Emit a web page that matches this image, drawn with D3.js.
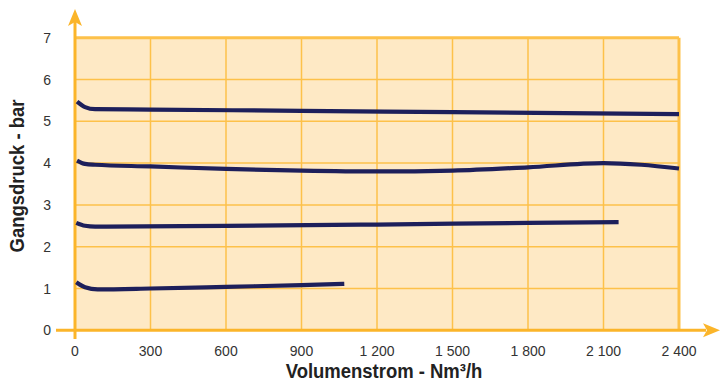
<!DOCTYPE html>
<html><head><meta charset="utf-8">
<script src="https://cdn.jsdelivr.net/npm/d3@7"></script>
<style>body{margin:0;background:#fff}svg{display:block}</style>
</head><body>
<svg id="c" width="720" height="381"></svg>
<script>
const xTicks = [0, 300, 600, 900, 1200, 1500, 1800, 2100, 2400];
const xTickLabels = ["0", "300", "600", "900", "1 200", "1 500", "1 800", "2 100", "2 400"];
const yTicks = [0, 1, 2, 3, 4, 5, 6, 7];
const xTitle = "Volumenstrom - Nm³/h";
const yTitle = "Gangsdruck - bar";

const flow1 = [8, 40, 80, 300, 900, 1500, 2400];
const pres1 = [5.47, 5.34, 5.29, 5.28, 5.25, 5.22, 5.17];
const flow2 = [8, 40, 80, 300, 600, 900, 1200, 1500, 1800, 2100, 2250, 2400];
const pres2 = [4.06, 3.98, 3.96, 3.92, 3.86, 3.82, 3.80, 3.82, 3.90, 4.00, 3.96, 3.87];
const flow3 = [5, 40, 80, 600, 1200, 1800, 2160];
const pres3 = [2.57, 2.50, 2.48, 2.50, 2.53, 2.57, 2.59];
const flow4 = [5, 40, 90, 300, 600, 900, 1070];
const pres4 = [1.15, 1.03, 0.98, 1.00, 1.04, 1.08, 1.11];

const series = [[flow1, pres1], [flow2, pres2], [flow3, pres3], [flow4, pres4]];

const L = 75, R = 679, T = 37.7, B = 330.3;
const x = d3.scaleLinear().domain([0, 2400]).range([L, R]);
const y = d3.scaleLinear().domain([0, 7]).range([B, T]);
const svg = d3.select("#c");
const orange = "#FBB52A", grid = "#FDC14A", fill = "#FEE9C5";

svg.append("rect").attr("x", L).attr("y", T).attr("width", R - L).attr("height", B - T).attr("fill", fill);

const g = svg.append("g");
g.selectAll("line.gx").data(xTicks.slice(1)).join("line")
  .attr("x1", d => x(d)).attr("x2", d => x(d)).attr("y1", T).attr("y2", B)
  .attr("stroke", grid).attr("stroke-width", d => d === 2400 ? 3 : 1.5);
g.selectAll("line.gy").data(yTicks.slice(1)).join("line")
  .attr("x1", L).attr("x2", R).attr("y1", d => y(d)).attr("y2", d => y(d))
  .attr("stroke", grid).attr("stroke-width", d => d === 7 ? 3 : 1.5);

// axes
svg.append("line").attr("x1", L).attr("x2", L).attr("y1", 22).attr("y2", 339).attr("stroke", orange).attr("stroke-width", 3);
svg.append("line").attr("x1", 56).attr("x2", 706).attr("y1", B).attr("y2", B).attr("stroke", orange).attr("stroke-width", 3);
svg.append("path").attr("d", `M${L},9 L${L-7},26 L${L},22 L${L+7},26 Z`).attr("fill", orange);
svg.append("path").attr("d", `M720,${B} L703,${B-7} L707,${B} L703,${B+7} Z`).attr("fill", orange);

// curves
const line = d3.line().x(d => x(d[0])).y(d => y(d[1])).curve(d3.curveMonotoneX);
series.forEach(([f, p]) => {
  svg.append("path").attr("d", line(f.map((v, i) => [v, p[i]])))
    .attr("fill", "none").attr("stroke", "#1D1F5B").attr("stroke-width", 4.2)
    .attr("stroke-linecap", "butt");
});

// tick labels
svg.append("g").selectAll("text").data(yTicks).join("text")
  .attr("x", 51).attr("y", d => y(d) + 5).attr("text-anchor", "end")
  .attr("font-family", "Liberation Sans, Arial, sans-serif").attr("font-size", 14).attr("fill", "#333")
  .text(d => d);
svg.append("g").selectAll("text").data(xTicks).join("text")
  .attr("x", d => x(d)).attr("y", 356).attr("text-anchor", "middle")
  .attr("font-family", "Liberation Sans, Arial, sans-serif").attr("font-size", 14).attr("fill", "#333")
  .text((d, i) => xTickLabels[i]);

svg.append("text").attr("transform", "translate(384,378) scale(0.88,1)").attr("text-anchor", "middle")
  .attr("font-family", "Liberation Sans, Arial, sans-serif").attr("font-weight", "bold")
  .attr("font-size", 21).attr("fill", "#222").text(xTitle);
svg.append("text").attr("transform", "translate(24,176) rotate(-90) scale(0.88,1)").attr("text-anchor", "middle")
  .attr("font-family", "Liberation Sans, Arial, sans-serif").attr("font-weight", "bold")
  .attr("font-size", 21).attr("fill", "#222").text(yTitle);
</script>
</body></html>
